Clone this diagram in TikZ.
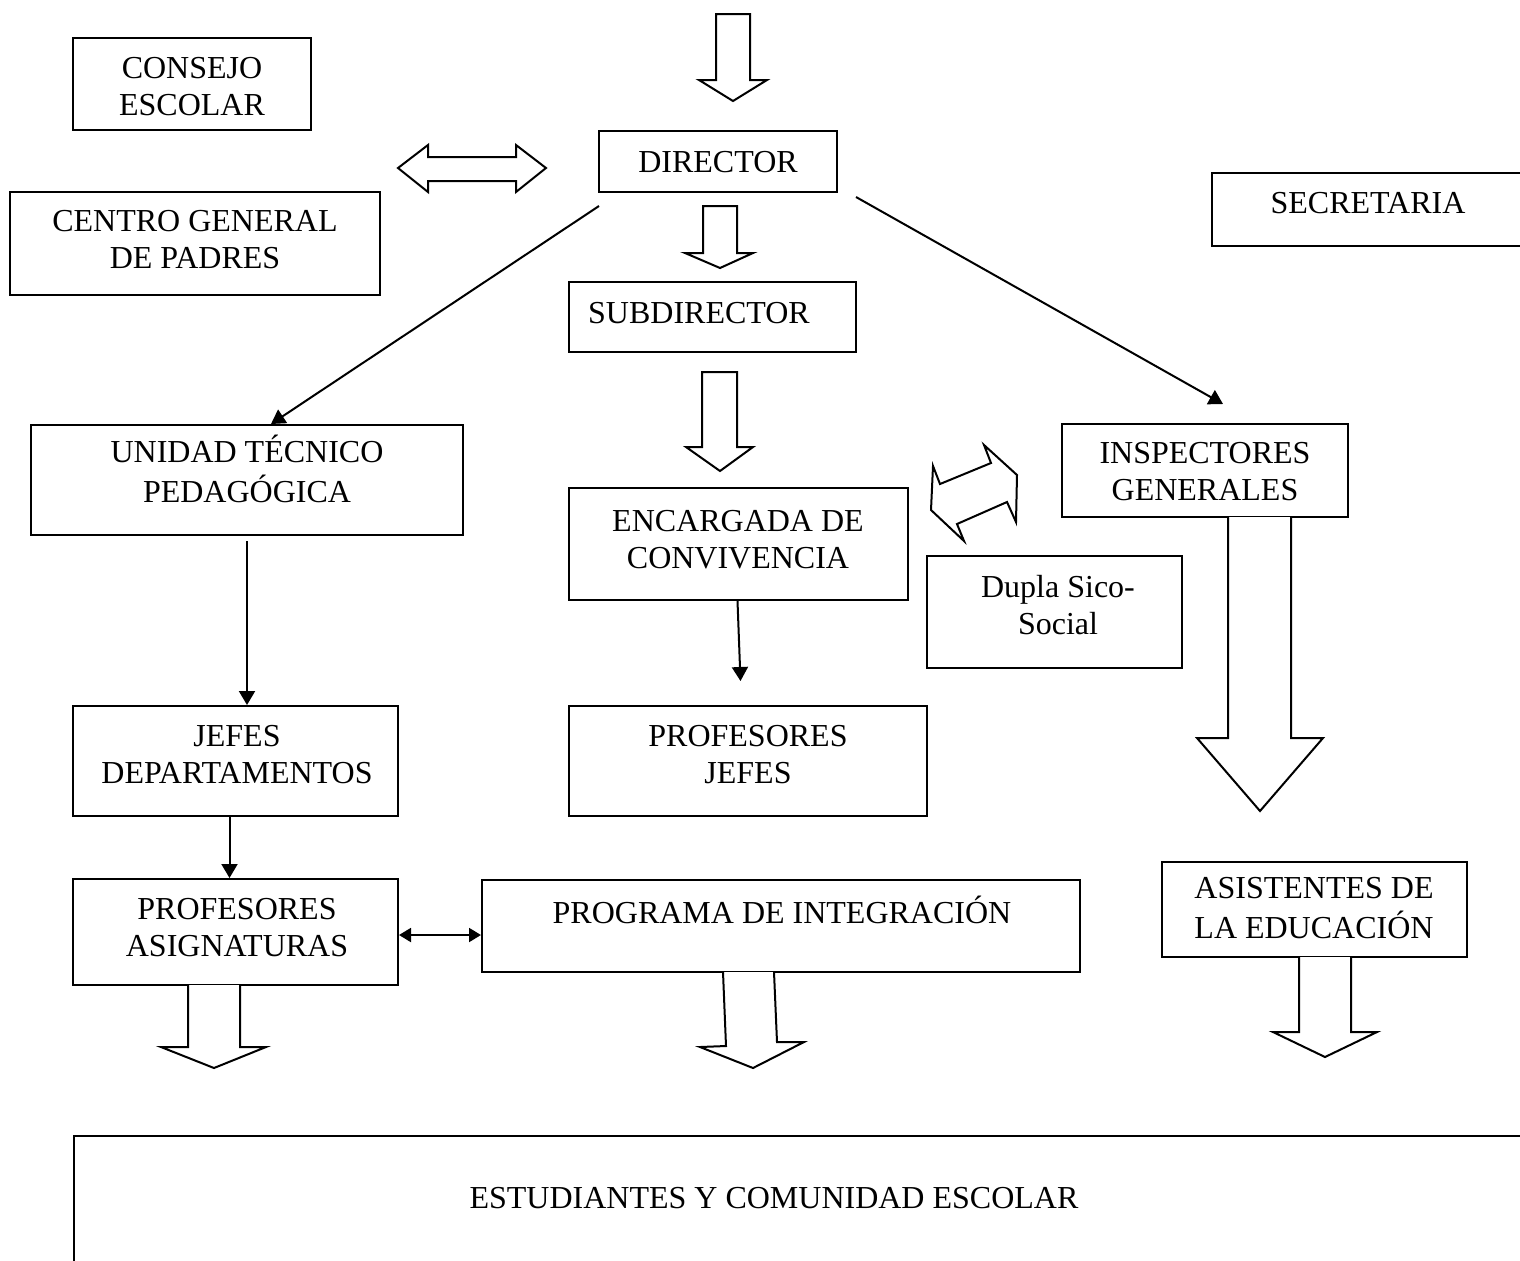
\documentclass[tikz,border=0pt]{standalone}
\usepackage{fontspec}
\setmainfont{Liberation Serif}
\usetikzlibrary{arrows.meta,fit,calc}
\begin{document}
\begin{tikzpicture}[x=0.5pt,y=-0.5pt,
  box/.style={draw, line width=1pt, inner sep=0pt, rectangle},
  txt/.style={font=\fontsize{16}{18.5}\selectfont, align=center, inner sep=0pt},
  conn/.style={line width=1pt, -{Triangle[length=7pt,width=8pt]}},
  conn2/.style={line width=1pt, {Triangle[length=6pt,width=7pt]}-{Triangle[length=6pt,width=7pt]}},
  blk/.style={draw, line width=1pt, line join=miter, fill=white}]
\useasboundingbox (0,0) rectangle (1520,1260);
\clip (0,0) rectangle (1520,1260);

% ---------- boxes ----------
\node[box, fit={(73,38) (311,130)}] (consejo) {};
\node[box, fit={(10,192) (380,295)}] (centro) {};
\node[box, fit={(599,131) (837,192)}] (dir) {};
\node[box, fit={(1212,173) (1530,246)}] (secr) {};
\node[box, fit={(569,282) (856,352)}] (sub) {};
\node[box, fit={(31,425) (463,535)}] (utp) {};
\node[box, fit={(569,488) (908,600)}] (enc) {};
\node[box, fit={(1062,424) (1348,517)}] (insp) {};
\node[box, fit={(927,556) (1182,668)}] (dupla) {};
\node[box, fit={(73,706) (398,816)}] (jefes) {};
\node[box, fit={(569,706) (927,816)}] (pjefes) {};
\node[box, fit={(73,879) (398,985)}] (pasig) {};
\node[box, fit={(482,880) (1080,972)}] (pie) {};
\node[box, fit={(1162,862) (1467,957)}] (asist) {};
\node[box, fit={(74,1136) (1530,1280)}] (est) {};

% ---------- texts ----------
\node[txt] (consejo-t) at (192,89.5) {\strut CONSEJO\\\strut ESCOLAR};
\node[txt] (centro-t) at (195,243) {\strut CENTRO GENERAL\\\strut DE PADRES};
\node[txt] (dir-t) at (718,165) {\strut DIRECTOR};
\node[txt] (secr-t) at (1368,206) {\strut SECRETARIA};
\node[txt] (sub-t) at (699,316) {\strut SUBDIRECTOR};
\node[txt] (utp-t) at (247,474.5) {\strut UNIDAD TÉCNICO\\\strut PEDAGÓGICA};
\node[txt] (enc-t) at (738,542.5) {\strut ENCARGADA DE\\\strut CONVIVENCIA};
\node[txt] (insp-t) at (1205,474.5) {\strut INSPECTORES\\\strut GENERALES};
\node[txt] (dupla-t) at (1058,609) {\strut Dupla Sico-\\\strut Social};
\node[txt] (jefes-t) at (237,758) {\strut JEFES\\\strut DEPARTAMENTOS};
\node[txt] (pjefes-t) at (748,758) {\strut PROFESORES\\\strut JEFES};
\node[txt] (pasig-t) at (237,931) {\strut PROFESORES\\\strut ASIGNATURAS};
\node[txt] (pie-t) at (782,915) {\strut PROGRAMA DE INTEGRACIÓN};
\node[txt] (asist-t) at (1314,911) {\strut ASISTENTES DE\\\strut LA EDUCACIÓN};
\node[txt] (est-t) at (774,1201) {\strut ESTUDIANTES Y COMUNIDAD ESCOLAR};

% ---------- block arrows ----------
% top arrow into DIRECTOR
\draw[blk] (716,14) -- (716,80) -- (699,80) -- (733,101) -- (767,80) -- (750,80) -- (750,14) -- cycle;
% DIRECTOR -> SUBDIRECTOR
\draw[blk] (703,206) -- (703,253) -- (685,253) -- (720,268) -- (753,253) -- (737,253) -- (737,206) -- cycle;
% SUBDIRECTOR -> ENCARGADA
\draw[blk] (702,372) -- (702,447) -- (686,447) -- (720,471) -- (753,447) -- (737,447) -- (737,372) -- cycle;
% double arrow left of DIRECTOR
\draw[blk] (398,168) -- (428,145) -- (428,157) -- (516,157) -- (516,145) -- (546,168) -- (516,192) -- (516,181) -- (428,181) -- (428,192) -- cycle;
% tilted double arrow near Dupla
\draw[blk] (933,466) -- (940,484) -- (991,463) -- (984,445) -- (1017,475) -- (1016,522) -- (1007,502) -- (957,524) -- (964,541) -- (931,510) -- cycle;
% INSPECTORES -> ASISTENTES (large)
\draw[blk] (1228,517) -- (1228,738) -- (1197,738) -- (1260,811) -- (1323,738) -- (1291,738) -- (1291,517);
% PROFESORES ASIGNATURAS -> ESTUDIANTES
\draw[blk] (188,985) -- (188,1047) -- (161,1047) -- (214,1068) -- (266,1047) -- (240,1047) -- (240,985);
% PROGRAMA -> ESTUDIANTES
\draw[blk] (723,972) -- (726,1046) -- (700,1047) -- (753,1068) -- (804,1042) -- (777,1042) -- (774,972);
% ASISTENTES -> ESTUDIANTES
\draw[blk] (1299,957) -- (1299,1032) -- (1273,1032) -- (1325,1057) -- (1377,1032) -- (1351,1032) -- (1351,957);

% ---------- line connectors ----------
\draw[conn] ([shift={(1,13)}]dir.south west) -- ([xshift=120.5pt]utp.north west);
\draw[conn] ([shift={(18,4)}]dir.south east) -- ([shift={(18,-19)}]insp.north);
\draw[conn] ([yshift=-2.5pt]utp.south) -- (utp.south |- jefes.north);
\draw[conn] ([xshift=-0.5pt]enc.south) -- ([xshift=1pt,yshift=12pt]enc.south |- pjefes.north);
\draw[conn] ([xshift=-3pt]jefes.south) -- ([xshift=-3pt]pasig.north);
\draw[conn2] ([yshift=-1.5pt]pasig.east) -- ([yshift=-1.5pt]pasig.east -| pie.west);
\end{tikzpicture}
\end{document}
